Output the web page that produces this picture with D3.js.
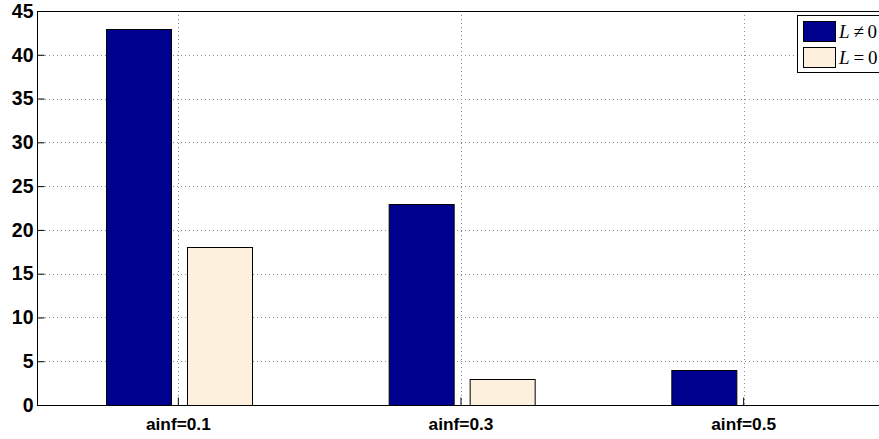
<!DOCTYPE html>
<html><head><meta charset="utf-8">
<script src="https://cdn.jsdelivr.net/npm/d3@7"></script>
<style>body{margin:0;background:#fff}svg{display:block}</style>
</head><body>
<script>
const categories = ["ainf=0.1", "ainf=0.3", "ainf=0.5"];
const seriesNames = [["L", "\u2009\u2260\u20090"], ["L", "\u2009=\u20090"]];
const seriesNonZero = [43, 23, 4];
const seriesZero = [18, 3, 0];
const yTicks = [0, 5, 10, 15, 20, 25, 30, 35, 40, 45];
const colors = ["#00008f", "#fdf0dc"];

const W = 879, H = 439;
const m = {left: 37, top: 11, right: 885, bottom: 405};
const svg = d3.select("body").append("svg").attr("width", W).attr("height", H);

const x = d3.scaleBand().domain(categories).range([m.left, m.right]).paddingInner(0).paddingOuter(0);
const bw = x.bandwidth();
const xs = d3.scaleBand().domain([0, 1]).range([bw * 0.244, bw * 0.760]).paddingInner(0.1975).paddingOuter(0);
const y = d3.scaleLinear().domain([0, 45]).range([m.bottom, m.top]);

// grid
const g = svg.append("g");
g.selectAll("line.hy").data(yTicks.slice(1, -1)).join("line")
  .attr("x1", m.left).attr("x2", m.right).attr("y1", d => Math.round(y(d)) + 0.5).attr("y2", d => Math.round(y(d)) + 0.5)
  .attr("stroke", "#8c8c8c").attr("stroke-width", 1).attr("stroke-dasharray", "1,3");
g.selectAll("line.vx").data(categories).join("line")
  .attr("x1", d => Math.round(x(d) + bw / 2) + 0.5).attr("x2", d => Math.round(x(d) + bw / 2) + 0.5)
  .attr("y1", m.top).attr("y2", m.bottom)
  .attr("stroke", "#8c8c8c").attr("stroke-width", 1).attr("stroke-dasharray", "1,3");

// bars
const data = categories.map((c, i) => [seriesNonZero[i], seriesZero[i]]);
const grp = svg.append("g").selectAll("g").data(categories).join("g")
  .attr("transform", d => `translate(${x(d)},0)`);
grp.selectAll("rect").data((c, i) => data[i].map((v, s) => ({v, s}))).join("rect")
  .filter(d => d.v > 0)
  .attr("x", d => Math.round(xs(d.s)) + 0.5)
  .attr("width", Math.round(xs.bandwidth()))
  .attr("y", d => Math.round(y(d.v)) + 0.5)
  .attr("height", d => Math.round(y(0) - y(d.v)))
  .attr("fill", d => colors[d.s]).attr("stroke", "#000").attr("stroke-width", 1);

// axes
const yAxis = d3.axisLeft(y).tickValues(yTicks).tickSize(-7).tickPadding(4).tickFormat(d3.format("d"));
const ya = svg.append("g").attr("transform", `translate(${m.left + 0.5},0)`).call(yAxis);
ya.select(".domain").remove();
ya.selectAll("text").attr("font-family", "Liberation Sans, Arial, sans-serif").attr("font-weight", "bold").attr("font-size", 19.5).attr("fill", "#000");

const xAxis = d3.axisBottom(x).tickSize(-8).tickPadding(12);
const xa = svg.append("g").attr("transform", `translate(0,${m.bottom + 0.5})`).call(xAxis);
xa.select(".domain").remove();
xa.selectAll("text").attr("font-family", "Liberation Sans, Arial, sans-serif").attr("font-weight", "bold").attr("font-size", 17.3).attr("fill", "#000");

// frame
svg.append("line").attr("x1", m.left + 0.5).attr("x2", m.left + 0.5).attr("y1", m.top).attr("y2", m.bottom + 1).attr("stroke", "#000");
svg.append("line").attr("x1", m.left).attr("x2", W).attr("y1", m.bottom + 0.5).attr("y2", m.bottom + 0.5).attr("stroke", "#000");
svg.append("line").attr("x1", m.left).attr("x2", W).attr("y1", m.top + 0.5).attr("y2", m.top + 0.5).attr("stroke", "#000");

// legend
const lg = svg.append("g");
lg.append("rect").attr("x", 797.5).attr("y", 15.5).attr("width", 90).attr("height", 57)
  .attr("fill", "#fff").attr("stroke", "#000");
seriesNames.forEach((n, i) => {
  lg.append("rect").attr("x", 803.5).attr("y", 21.5 + i * 26).attr("width", 32).attr("height", 20)
    .attr("fill", colors[i]).attr("stroke", "#000");
  const t = lg.append("text").attr("x", 839).attr("y", 38 + i * 26)
    .attr("font-family", "Liberation Serif, DejaVu Serif, serif").attr("font-size", 19).attr("fill", "#000");
  t.append("tspan").attr("font-style", "italic").text(n[0]);
  t.append("tspan").text(n[1]);
});
</script>
</body></html>
